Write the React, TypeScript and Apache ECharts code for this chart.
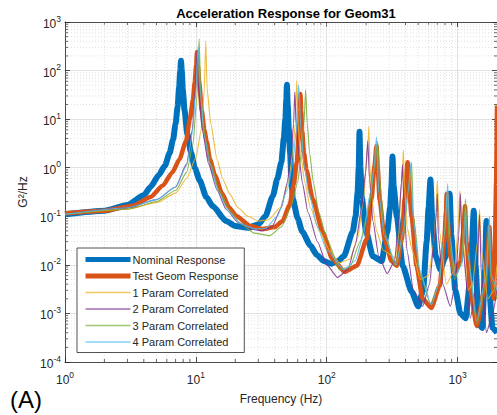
import React, { useEffect, useRef } from 'react';
import * as echarts from 'echarts';

const FONT = '"Liberation Sans", Arial, Helvetica, sans-serif';
const X_MIN = 1;
const X_MAX = 2000;
const Y_MIN = 1e-4;
const Y_MAX = 1e3;

const seriesNames = [
  'Nominal Response',
  'Test Geom Response',
  '1 Param Correlated',
  '2 Param Correlated',
  '3 Param Correlated',
  '4 Param Correlated',
];

// [frequency (Hz), G^2/Hz]
const nominalResponse: [number, number][] = [
  [1, 0.11], [2, 0.13], [3, 0.17], [4, 0.27], [4.5, 0.4], [5.2, 0.7], [5.8, 1.1], [6.3, 2.0], [6.7, 3.8], [7.0, 8],
  [7.25, 18], [7.45, 45], [7.6, 100], [7.7, 160], [7.8, 100], [7.95, 40], [8.2, 15], [8.6, 5], [9.2, 2], [9.8, 1.0],
  [10.7, 0.55], [12, 0.25], [13.5, 0.16], [17, 0.08], [20, 0.063], [25, 0.058], [30, 0.068], [34, 0.1], [38.7, 0.26],
  [42, 0.6], [45, 1.3], [47, 4], [48.3, 10], [49.1, 25], [49.6, 51], [50.3, 20], [51.3, 6.3], [52.5, 2], [53.5, 0.8],
  [55, 0.23], [60, 0.09], [65, 0.048], [75, 0.025], [84, 0.016], [95, 0.012], [108, 0.0105], [122, 0.012], [135, 0.015],
  [158, 0.048], [166, 0.1], [172, 0.3], [175.5, 1], [178, 5.5], [181, 1], [185, 0.25], [200, 0.048], [225, 0.015],
  [263, 0.012], [290, 0.048], [305, 0.15], [312, 0.4], [318, 1.7], [325, 0.4], [343, 0.1], [380, 0.0096], [445, 0.0028],
  [500, 0.0014], [545, 0.003], [580, 0.03], [600, 0.15], [620, 0.57], [640, 0.09], [680, 0.015], [740, 0.008], [800, 0.014],
  [850, 0.06], [870, 0.29], [895, 0.04], [960, 0.003], [1050, 0.001], [1150, 0.0008], [1250, 0.005], [1330, 0.13], [1370, 0.01],
  [1450, 0.0006], [1540, 0.0005], [1620, 0.008], [1660, 0.08], [1700, 0.008], [1850, 0.0005], [2000, 0.0004],
];

const testGeomResponse: [number, number][] = [
  [1, 0.115], [2, 0.13], [3.3, 0.165], [4.5, 0.25], [5.6, 0.43], [6.6, 0.8], [7.5, 1.5], [8.4, 3.5], [9, 10], [9.5, 25],
  [9.8, 58], [10.05, 130], [10.2, 240], [10.35, 130], [10.6, 58], [11.1, 15], [11.6, 6], [12.1, 3.5], [12.8, 1.5], [14, 0.7],
  [15.8, 0.3], [18, 0.15], [20.5, 0.1], [25.8, 0.064], [32.5, 0.055], [40, 0.06], [46, 0.08], [52, 0.17], [56, 0.45],
  [59, 1.3], [61.5, 6], [62.4, 15], [63, 33], [63.8, 15], [64.8, 6], [67, 2], [70, 0.9], [78, 0.23], [93, 0.048], [110, 0.0134],
  [137, 0.0072], [170, 0.0096], [202, 0.034], [220, 0.23], [232, 1.1], [240, 2.8], [246, 0.9], [253, 0.23], [277, 0.034],
  [312, 0.012], [343, 0.0096], [375, 0.034], [394, 0.23], [415, 1.3], [425, 0.4], [445, 0.1], [485, 0.0096], [540, 0.002],
  [630, 0.0013], [730, 0.0037], [790, 0.03], [815, 0.12], [824, 0.29], [840, 0.08], [880, 0.015], [950, 0.0066], [1050, 0.012],
  [1110, 0.05], [1140, 0.16], [1170, 0.03], [1250, 0.003], [1400, 0.00055], [1600, 0.003], [1700, 0.02], [1750, 0.06],
  [1800, 0.01], [1900, 0.002], [1970, 0.5], [2000, 19],
];

const param1Correlated: [number, number][] = [
  [1, 0.11], [3, 0.14], [5, 0.19], [7, 0.3], [8.5, 0.6], [10, 1.6], [11, 6], [11.6, 40], [11.9, 410], [12.2, 40], [13, 8],
  [14.5, 1.5], [16, 0.6], [18, 0.3], [21, 0.15], [25, 0.1], [30, 0.08], [36, 0.085], [44, 0.15], [51, 0.5], [55, 2], [57.5, 8],
  [59, 62], [60.5, 8], [63, 2], [68, 0.5], [75, 0.15], [88, 0.05], [105, 0.02], [125, 0.011], [150, 0.013], [172, 0.035],
  [190, 0.2], [200, 1], [206, 3], [210, 7], [214, 1], [222, 0.2], [240, 0.05], [270, 0.02], [335, 0.014], [355, 0.04],
  [368, 0.3], [380, 1], [385, 2.3], [392, 0.5], [410, 0.06], [450, 0.02], [520, 0.005], [600, 0.006], [660, 0.03], [685, 0.15],
  [700, 0.55], [725, 0.05], [820, 0.004], [950, 0.008], [1010, 0.06], [1040, 0.34], [1080, 0.05], [1200, 0.003], [1300, 0.004],
  [1420, 0.03], [1470, 0.14], [1520, 0.02], [1700, 0.002], [1900, 0.003], [2000, 0.01],
];

const param2Correlated: [number, number][] = [
  [1, 0.11], [3, 0.15], [5, 0.22], [7, 0.4], [8.5, 1.2], [9.4, 6], [9.9, 40], [10.2, 250], [10.5, 40], [11.2, 6], [12.5, 1.2],
  [14.5, 0.35], [17, 0.14], [21, 0.075], [26, 0.055], [32, 0.05], [38, 0.06], [45, 0.15], [50, 0.5], [53.5, 2], [55.8, 8],
  [57, 36], [58.5, 8], [61, 2], [65, 0.5], [72, 0.12], [85, 0.03], [100, 0.01], [121, 0.0055], [145, 0.008], [165, 0.025],
  [185, 0.15], [198, 0.8], [206, 3.6], [212, 0.6], [225, 0.08], [250, 0.015], [290, 0.0066], [330, 0.012], [355, 0.08],
  [372, 0.5], [380, 1.15], [388, 0.2], [410, 0.02], [460, 0.003], [540, 0.0014], [610, 0.004], [660, 0.03], [690, 0.12],
  [700, 0.29], [712, 0.04], [770, 0.004], [880, 0.0014], [960, 0.004], [1020, 0.04], [1050, 0.29], [1080, 0.03], [1250, 0.0008],
  [1400, 0.004], [1470, 0.11], [1520, 0.006], [1660, 0.0004], [1850, 0.001], [2000, 0.003],
];

const param3Correlated: [number, number][] = [
  [1, 0.11], [3, 0.14], [5, 0.2], [7, 0.34], [8.5, 0.8], [9.5, 3], [10.2, 30], [10.6, 450], [10.9, 30], [11.8, 4], [13, 1.2],
  [15, 0.35], [18, 0.14], [22, 0.07], [28, 0.045], [36.7, 0.04], [45, 0.06], [53, 0.15], [60, 0.5], [64, 2], [67, 8], [69, 40],
  [71, 8], [74, 2], [79, 0.5], [87, 0.12], [100, 0.035], [125, 0.008], [150, 0.009], [180, 0.03], [210, 0.15], [232, 1],
  [245, 3.5], [255, 0.5], [275, 0.05], [330, 0.01], [380, 0.03], [420, 0.3], [445, 1.3], [460, 0.1], [520, 0.006], [620, 0.0016],
  [720, 0.004], [790, 0.04], [830, 0.3], [860, 0.03], [950, 0.005], [1060, 0.01], [1120, 0.06], [1150, 0.23], [1190, 0.02],
  [1400, 0.0006], [1650, 0.004], [1750, 0.06], [1800, 0.005], [2000, 0.002],
];

const param4Correlated: [number, number][] = [
  [1, 0.11], [3, 0.15], [5, 0.22], [7, 0.4], [8.5, 1.1], [9.4, 5], [10, 40], [10.4, 320], [10.8, 40], [11.5, 5], [12.8, 1.2],
  [14.8, 0.33], [17.5, 0.13], [22, 0.07], [28, 0.055], [34, 0.056], [42, 0.1], [50, 0.35], [55, 1.2], [58.5, 6], [61, 51],
  [63.5, 6], [67, 1.2], [73, 0.3], [85, 0.06], [100, 0.02], [135, 0.008], [165, 0.012], [190, 0.04], [215, 0.3], [230, 1],
  [240, 4.3], [250, 0.3], [275, 0.04], [340, 0.01], [385, 0.05], [420, 0.35], [440, 1.3], [455, 0.1], [510, 0.008], [630, 0.0015],
  [720, 0.004], [800, 0.05], [840, 0.47], [870, 0.04], [960, 0.006], [1080, 0.01], [1130, 0.05], [1150, 0.15], [1180, 0.02],
  [1400, 0.0007], [1650, 0.006], [1750, 0.1], [1800, 0.006], [2000, 0.003],
];

const seriesData = [
  nominalResponse,
  testGeomResponse,
  param1Correlated,
  param2Correlated,
  param3Correlated,
  param4Correlated,
];
const seriesColors = ['#0072BD', '#D95319', '#EDB120', '#7E2F8E', '#77AC30', '#4DBEEE'];
const seriesWidths = [6, 4.5, 1.1, 1.1, 1.1, 1.1];
const legendWidths = [5, 5, 1.5, 1.5, 1.5, 1.5];

const xMinorTicks = [
  2, 3, 4, 5, 6, 7, 8, 9,
  20, 30, 40, 50, 60, 70, 80, 90,
  200, 300, 400, 500, 600, 700, 800, 900,
];
const yMinorTicks = [
  2e-4, 3e-4, 4e-4, 5e-4, 6e-4, 7e-4, 8e-4, 9e-4,
  2e-3, 3e-3, 4e-3, 5e-3, 6e-3, 7e-3, 8e-3, 9e-3,
  0.02, 0.03, 0.04, 0.05, 0.06, 0.07, 0.08, 0.09,
  0.2, 0.3, 0.4, 0.5, 0.6, 0.7, 0.8, 0.9,
  2, 3, 4, 5, 6, 7, 8, 9,
  20, 30, 40, 50, 60, 70, 80, 90,
  200, 300, 400, 500, 600, 700, 800, 900,
];

const AXIS_COLOR = '#262626';
const MAJOR_GRID = '#dcdcdc';
const MINOR_GRID = '#d4d4d4';

const powLabel = (v: number) => {
  const e = Math.round(Math.log10(v));
  return `{b|10}{s|${e}}`;
};
const labelRich = {
  b: { fontSize: 12, color: AXIS_COLOR, fontFamily: FONT, lineHeight: 16, verticalAlign: 'bottom' },
  s: { fontSize: 8.5, color: AXIS_COLOR, fontFamily: FONT, lineHeight: 16, verticalAlign: 'top' },
};

export default function App() {
  const ref = useRef<HTMLDivElement>(null);

  useEffect(() => {
    if (!ref.current) return;
    const chart = echarts.init(ref.current, null, { renderer: 'svg' });

    const minorX = {
      type: 'custom',
      silent: true,
      z: 1,
      data: xMinorTicks.map((v) => [v, 1]),
      encode: { x: 0, y: 1 },
      renderItem: (_p: any, api: any) => {
        const v = api.value(0);
        const b = api.coord([v, Y_MIN]);
        const t = api.coord([v, Y_MAX]);
        return {
          type: 'group',
          children: [
            { type: 'line', shape: { x1: b[0], y1: b[1], x2: t[0], y2: t[1] }, style: { stroke: MINOR_GRID, lineWidth: 0.7, lineDash: [1, 2] } },
            { type: 'line', shape: { x1: b[0], y1: b[1], x2: b[0], y2: b[1] - 3 }, style: { stroke: AXIS_COLOR, lineWidth: 0.7 } },
            { type: 'line', shape: { x1: t[0], y1: t[1], x2: t[0], y2: t[1] + 3 }, style: { stroke: AXIS_COLOR, lineWidth: 0.7 } },
          ],
        };
      },
    };
    const minorY = {
      type: 'custom',
      silent: true,
      z: 1,
      data: yMinorTicks.map((v) => [1, v]),
      encode: { x: 0, y: 1 },
      renderItem: (_p: any, api: any) => {
        const v = api.value(1);
        const l = api.coord([X_MIN, v]);
        const r = api.coord([X_MAX, v]);
        return {
          type: 'group',
          children: [
            { type: 'line', shape: { x1: l[0], y1: l[1], x2: r[0], y2: r[1] }, style: { stroke: MINOR_GRID, lineWidth: 0.7, lineDash: [1, 2] } },
            { type: 'line', shape: { x1: l[0], y1: l[1], x2: l[0] + 3, y2: l[1] }, style: { stroke: AXIS_COLOR, lineWidth: 0.7 } },
            { type: 'line', shape: { x1: r[0], y1: r[1], x2: r[0] - 3, y2: r[1] }, style: { stroke: AXIS_COLOR, lineWidth: 0.7 } },
          ],
        };
      },
    };

    const lineSeries = seriesNames.map((name, i) => ({
      type: 'line',
      name,
      data: seriesData[i],
      showSymbol: false,
      symbol: 'none',
      silent: true,
      z: 3 + i,
      clip: true,
      smooth: 0.2,
      smoothMonotone: 'x',
      color: seriesColors[i],
      lineStyle: {
        color: seriesColors[i],
        width: seriesWidths[i],
        join: 'bevel',
        opacity: i < 2 ? 1 : 0.85,
      },
      emphasis: { disabled: true },
    }));

    const axisLine = { show: true, lineStyle: { color: AXIS_COLOR, width: 0.8 } };
    const axisTick = { show: true, inside: true, length: 5, lineStyle: { color: AXIS_COLOR, width: 0.8 } };

    chart.setOption({
      animation: false,
      backgroundColor: '#ffffff',
      title: {
        text: 'Acceleration Response for Geom31',
        left: 281,
        top: 2,
        textAlign: 'center',
        textStyle: { fontSize: 13, fontWeight: 'bold', color: '#000', fontFamily: FONT },
      },
      grid: { left: 65, right: 0, top: 22, bottom: 53, containLabel: false, outerBoundsMode: 'none' },
      xAxis: [
        {
          type: 'log',
          logBase: 10,
          min: X_MIN,
          max: X_MAX,
          position: 'bottom',
          name: 'Frequency (Hz)',
          nameLocation: 'middle',
          nameGap: 31,
          nameTextStyle: { fontSize: 12, color: AXIS_COLOR, fontFamily: FONT },
          axisLine,
          axisTick,
          axisLabel: { formatter: powLabel, rich: labelRich, margin: 8, showMaxLabel: false, color: AXIS_COLOR },
          splitLine: { show: true, lineStyle: { color: MAJOR_GRID, width: 0.8 } },
        },
        {
          type: 'log',
          logBase: 10,
          min: X_MIN,
          max: X_MAX,
          position: 'top',
          axisLine,
          axisTick,
          axisLabel: { show: false },
          splitLine: { show: false },
        },
      ],
      yAxis: [
        {
          type: 'log',
          logBase: 10,
          min: Y_MIN,
          max: Y_MAX,
          position: 'left',
          name: 'G\u00B2/Hz',
          nameLocation: 'middle',
          nameGap: 27,
          nameRotate: 90,
          nameTextStyle: { fontSize: 12, color: AXIS_COLOR, fontFamily: FONT },
          axisLine,
          axisTick,
          axisLabel: { formatter: powLabel, rich: labelRich, margin: 4, color: AXIS_COLOR },
          splitLine: { show: true, lineStyle: { color: MAJOR_GRID, width: 0.8 } },
        },
        {
          type: 'log',
          logBase: 10,
          min: Y_MIN,
          max: Y_MAX,
          position: 'right',
          axisLine,
          axisTick,
          axisLabel: { show: false },
          splitLine: { show: false },
        },
      ],
      legend: {
        data: seriesNames.map((name, i) => ({
          name,
          lineStyle: { color: seriesColors[i], width: legendWidths[i], opacity: i < 2 ? 1 : 0.7 },
          itemStyle: { opacity: 0 },
        })),
        orient: 'vertical',
        left: 77,
        top: 248,
        padding: [6, 6, 5, 6],
        itemWidth: 45,
        itemHeight: 13,
        itemGap: 5.5,
        backgroundColor: '#ffffff',
        borderColor: AXIS_COLOR,
        borderWidth: 0.8,
        borderRadius: 0,
        selectedMode: false,
        textStyle: { fontSize: 11, color: AXIS_COLOR, fontFamily: FONT, padding: [0, 0, 0, -3] },
        z: 20,
      },
      graphic: [
        {
          type: 'text',
          left: 10,
          top: 387,
          style: { text: '(A)', fontSize: 24, fontFamily: FONT, fill: '#000' },
          z: 30,
        },
      ],
      series: [minorX, minorY, ...lineSeries],
    });

    return () => chart.dispose();
  }, []);

  return (
    <div
      ref={ref}
      style={{ position: 'absolute', left: 0, top: 0, width: 497, height: 415, background: '#fff' }}
    />
  );
}
